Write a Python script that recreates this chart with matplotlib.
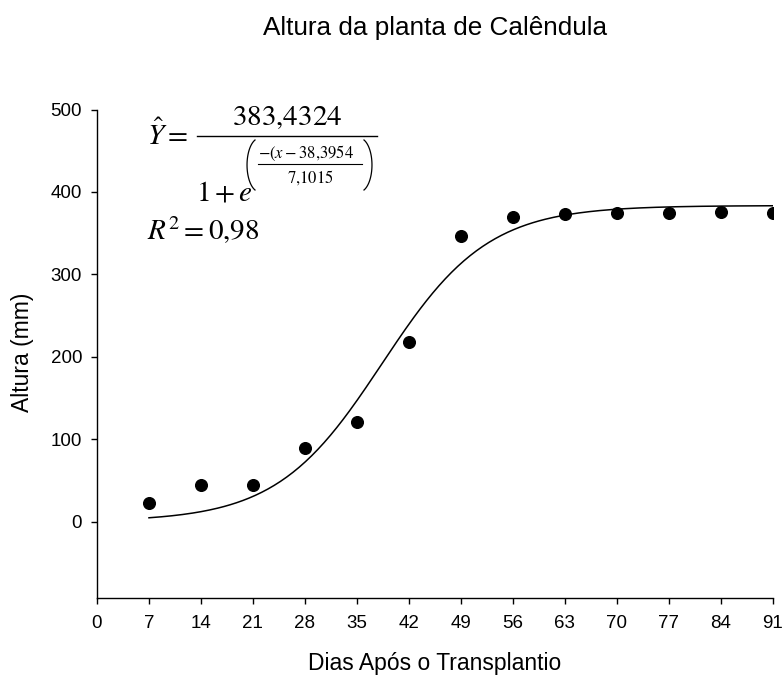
import numpy as np
import matplotlib
matplotlib.use("Agg")
import matplotlib.pyplot as plt
from matplotlib.lines import Line2D

plt.rcParams['font.family'] = ['Liberation Sans', 'DejaVu Sans']
plt.rcParams['mathtext.fontset'] = 'stix'

# Data
dias = [7, 14, 21, 28, 35, 42, 49, 56, 63, 70, 77, 84, 91]
altura = [23, 44, 44, 89, 121, 218, 347, 370, 373, 375, 375, 376, 374]

# Logistic fit parameters
a, x0, b = 383.4324, 38.3954, 7.1015

W, H = 783, 675
fig = plt.figure(figsize=(W / 100, H / 100), dpi=100)
ax = fig.add_axes([97 / W, 1 - 598 / H, 675.7 / W, 488.5 / H])


def px(x, y):
    # pixel position (from top-left) -> figure fraction
    return x / W, 1 - y / H


xf = np.linspace(7, 91, 300)
yf = a / (1 + np.exp(-(xf - x0) / b))
ax.plot(xf, yf, color='black', lw=1.1)
ax.plot(dias, altura, 'o', color='black', markersize=8.4)

ax.set_xlim(0, 91)
ax.set_ylim(-92.8, 500)
ax.set_xticks(np.arange(0, 92, 7))
ax.set_yticks([0, 100, 200, 300, 400, 500])
ax.spines['top'].set_visible(False)
ax.spines['right'].set_visible(False)
for s in ['left', 'bottom']:
    ax.spines[s].set_linewidth(1.0)
ax.tick_params(direction='out', length=4.3, width=1.0, labelsize=13.5)
ax.tick_params(axis='x', pad=8)
ax.tick_params(axis='y', pad=6.5)

# Labels and title
fig.text(*px(435, 670), 'Dias Após o Transplantio', ha='center', va='baseline', fontsize=16.5)
fig.text(*px(22, 352), 'Altura (mm)', ha='center', va='center', rotation=90, fontsize=16.5)
fig.text(*px(435, 35), 'Altura da planta de Calêndula', ha='center', va='baseline', fontsize=18.8)

# Equation, built piece by piece
fig.text(*px(147, 145), r'$\hat{Y}=$', fontsize=21, ha='left', va='baseline')
fig.text(*px(287, 125), r'$383{,}4324$', fontsize=21, ha='center', va='baseline')
fig.add_artist(Line2D([197 / W, 377 / W], [1 - 135.7 / H] * 2, color='black', lw=1.0,
                      transform=fig.transFigure))
fig.text(*px(196, 200), r'$1+e$', fontsize=21, ha='left', va='baseline')
fig.text(*px(258, 158), r'$-(x-38{,}3954$', fontsize=12, ha='left', va='baseline')
fig.add_artist(Line2D([258 / W, 362 / W], [1 - 164 / H] * 2, color='black', lw=0.8,
                      transform=fig.transFigure))
fig.text(*px(310, 183), r'$7{,}1015$', fontsize=12, ha='center', va='baseline')

# big parentheses around the exponent
t = np.linspace(-1.2, 1.2, 60)
hh = 25 / np.sin(1.2)
ww = 12.5
bow = ww * (np.cos(t) - np.cos(1.2))
yy = 165 - hh * np.sin(t)
fig.add_artist(Line2D((255 - bow) / W, 1 - yy / H, color='black', lw=0.9,
                      transform=fig.transFigure))
fig.add_artist(Line2D((364 + bow) / W, 1 - yy / H, color='black', lw=0.9,
                      transform=fig.transFigure))

fig.text(*px(147, 240), r'$R^2=0{,}98$', fontsize=21, ha='left', va='baseline')

fig.savefig('out.png', dpi=100)
